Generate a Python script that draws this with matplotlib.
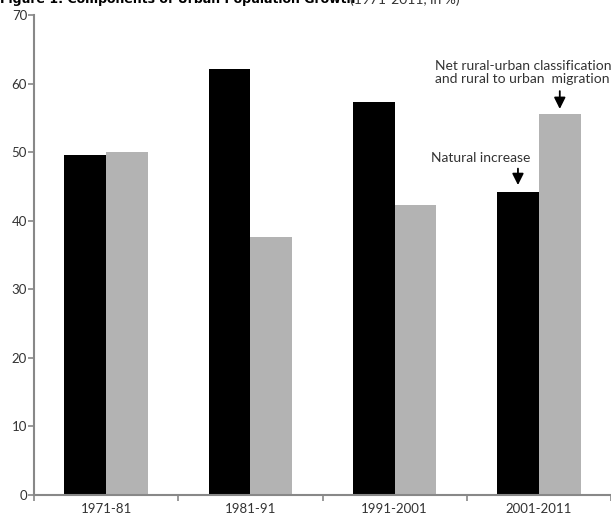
import numpy as np
import matplotlib
matplotlib.use("Agg")
import matplotlib.pyplot as plt

# data
periods = ["1971-81", "1981-91", "1991-2001", "2001-2011"]
natural_increase = [49.6, 62.1, 57.3, 44.2]
net_ru_migration = [50.0, 37.6, 42.3, 55.5]
yticks = [0, 10, 20, 30, 40, 50, 60, 70]

plt.rcParams['font.family'] = ['Lato', 'DejaVu Sans']

fig = plt.figure(figsize=(6.11, 5.18), dpi=100)
ax = fig.add_axes([34/611, 23/518, 1 - 34/611, 480/518])

x = np.arange(len(periods))
w = 0.29
ax.bar(x - w/2, natural_increase, w, color='black', zorder=2)
ax.bar(x + w/2, net_ru_migration, w, color='#b3b3b3', zorder=2)

ax.set_xlim(-0.5, -0.5 + 577/146)
ax.set_ylim(0, 70)
ax.set_yticks(yticks)
ax.set_xticks(x)
ax.set_xticklabels(periods)
ax.set_xticks(np.arange(-0.5, len(periods), 1.0), minor=True)

for s in ['top', 'right']:
    ax.spines[s].set_visible(False)
for s in ['left', 'bottom']:
    ax.spines[s].set_color('#888888')
    ax.spines[s].set_linewidth(1.5)
ax.tick_params(axis='y', length=4, width=1.2, color='#888888', labelsize=9.5, labelcolor='#333333', pad=1)
ax.tick_params(axis='x', which='major', length=0, labelsize=9.5, labelcolor='#333333', pad=6)
ax.tick_params(axis='x', which='minor', length=4, width=1.2, color='#888888')

# annotations
arrow = dict(arrowstyle='-|>', color='black', lw=1.3, mutation_scale=17, shrinkA=0, shrinkB=0)
ax.annotate('', xy=(3 - w/2, natural_increase[3] + 1.0), xytext=(3 - w/2, natural_increase[3] + 3.4),
            arrowprops=arrow)
ax.annotate('', xy=(3 + w/2, net_ru_migration[3] + 0.8), xytext=(3 + w/2, net_ru_migration[3] + 3.4),
            arrowprops=arrow)
ax.text(2.6, 49.1, 'Natural increase', ha='center', va='center', fontsize=10, color='#333333')
ax.text(2.28, 61.6, 'Net rural-urban classification\nand rural to urban  migration', ha='left',
        va='center', fontsize=10, color='#333333', linespacing=1.1, clip_on=False)

fig.text(0.0, 1.0, 'Figure 1: Components of Urban Population Growth', ha='left', va='center',
         fontsize=9, fontweight='bold', family=['Liberation Sans Narrow', 'DejaVu Sans'])
fig.text(350/611, 1.0, '(1971-2011, in %)', ha='left', va='center', fontsize=10, color='#333333')

fig.savefig('out.png', dpi=100)
